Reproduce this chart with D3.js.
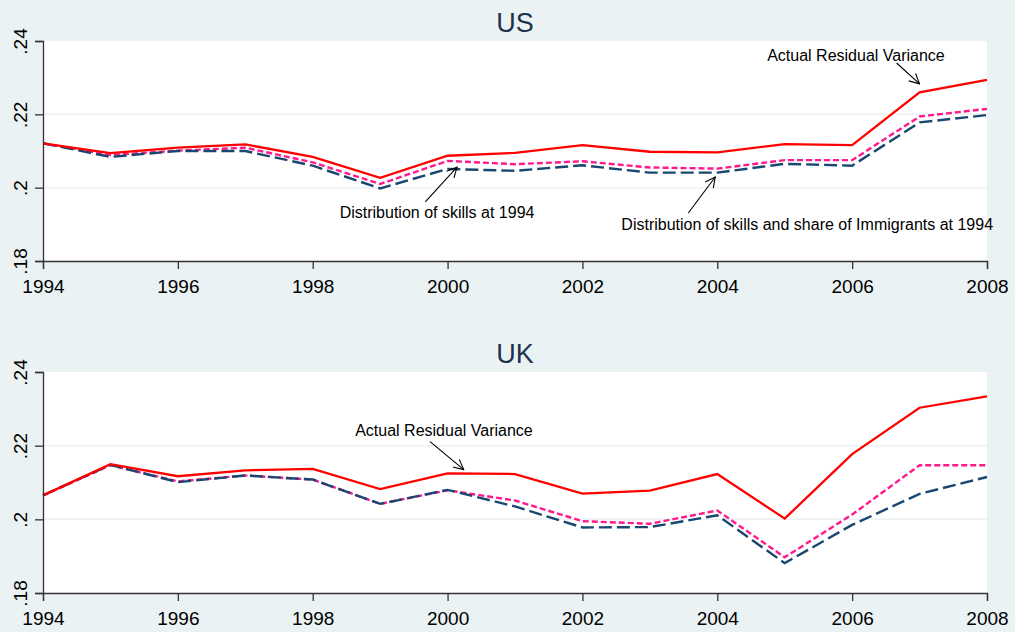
<!DOCTYPE html>
<html>
<head>
<meta charset="utf-8">
<script src="https://cdn.jsdelivr.net/npm/d3@7"></script>
<style>
  body { margin: 0; background: #eaf2f3; }
  svg { display: block; font-family: "Liberation Sans", Arial, sans-serif; }
</style>
</head>
<body>
<svg width="1015" height="632"></svg>
<script>
// residual variance, US and UK, 1994-2008

const BG = "#eaf2f3";
const RED = "#ff0000";
const PINK = "#ff1a8c";
const NAVY = "#1a476f";

var years = [1994, 1995, 1996, 1997, 1998, 1999, 2000, 2001, 2002, 2003, 2004, 2005, 2006, 2007, 2008];
var xTicks = [1994, 1996, 1998, 2000, 2002, 2004, 2006, 2008];
var yTicks = [0.18, 0.2, 0.22, 0.24];
var yTickLabels = [".18", ".2", ".22", ".24"];

// US
var usActual = [0.2121, 0.2094, 0.2109, 0.2118, 0.2084, 0.2027, 0.2087, 0.2095, 0.2116, 0.2098, 0.2096, 0.2119, 0.2116, 0.2260, 0.2294];
var usSkills = [0.2121, 0.2089, 0.2101, 0.2109, 0.2069, 0.2010, 0.2073, 0.2064, 0.2072, 0.2055, 0.2052, 0.2075, 0.2075, 0.2194, 0.2215];
var usSkillsImm = [0.2121, 0.2084, 0.2100, 0.2100, 0.2060, 0.1998, 0.2051, 0.2046, 0.2061, 0.2041, 0.2041, 0.2065, 0.2060, 0.2178, 0.2198];

// UK
var ukActual = [0.2065, 0.2150, 0.2117, 0.2133, 0.2137, 0.2082, 0.2125, 0.2123, 0.2070, 0.2078, 0.2123, 0.2002, 0.2177, 0.2303, 0.2334];
var ukSkills = [0.2065, 0.2147, 0.2103, 0.2119, 0.2108, 0.2042, 0.2079, 0.2051, 0.1995, 0.1988, 0.2024, 0.1897, 0.2013, 0.2147, 0.2147];
var ukSkillsImm = [0.2065, 0.2148, 0.2101, 0.2119, 0.2108, 0.2042, 0.2080, 0.2035, 0.1978, 0.1979, 0.2011, 0.1881, 0.1985, 0.2069, 0.2115];

// annotations, in data units (year, value)
var usLabels = [
  {text: "Actual Residual Variance", x: 2004.74, y: 0.2345, anchor: "start"},
  {text: "Distribution of skills at 1994", x: 1998.40, y: 0.1917, anchor: "start"},
  {text: "Distribution of skills and share of Immigrants at 1994", x: 2008.09, y: 0.1885, anchor: "end"}
];
var usArrows = [
  {x1: 2006.66, y1: 0.2340, x2: 2007.00, y2: 0.2283},
  {x1: 1999.67, y1: 0.1961, x2: 2000.14, y2: 0.2056},
  {x1: 2003.57, y1: 0.1931, x2: 2003.97, y2: 0.2029}
];
var ukLabels = [
  {text: "Actual Residual Variance", x: 1998.63, y: 0.2227, anchor: "start"}
];
var ukArrows = [
  {x1: 1999.74, y1: 0.2211, x2: 2000.24, y2: 0.2135}
];

var svg = d3.select("svg");

svg.append("rect")
  .attr("width", 1015)
  .attr("height", 632)
  .attr("fill", BG);

var defs = svg.append("defs");
defs.append("marker")
  .attr("id", "arrow")
  .attr("viewBox", "0 0 12 12")
  .attr("refX", 11)
  .attr("refY", 6)
  .attr("markerWidth", 12)
  .attr("markerHeight", 12)
  .attr("markerUnits", "userSpaceOnUse")
  .attr("orient", "auto")
  .append("path")
  .attr("d", "M1,1 L11,6 L1,11")
  .attr("fill", "none")
  .attr("stroke", "#000")
  .attr("stroke-width", 1.1);

var x = d3.scaleLinear().domain([1994, 2008]).range([43, 987]);

function drawPanel(title, top, bottom, titleY, series, labels, arrows) {
  var y = d3.scaleLinear().domain([0.18, 0.24]).range([bottom, top]);
  var g = svg.append("g");

  g.append("rect")
    .attr("x", x(1994))
    .attr("y", top)
    .attr("width", x(2008) - x(1994))
    .attr("height", bottom - top)
    .attr("fill", "#fff");

  g.append("text")
    .attr("x", 515)
    .attr("y", titleY)
    .attr("text-anchor", "middle")
    .attr("font-size", 27)
    .attr("fill", "#1e3250")
    .text(title);

  // grid lines
  g.selectAll(".grid")
    .data([0.2, 0.22])
    .enter().append("line")
    .attr("class", "grid")
    .attr("x1", x(1994))
    .attr("x2", x(2008))
    .attr("y1", function (d) { return y(d); })
    .attr("y2", function (d) { return y(d); })
    .attr("stroke", BG)
    .attr("stroke-width", 1.5);

  var line = d3.line()
    .x(function (d, i) { return x(years[i]); })
    .y(function (d) { return y(d); });

  series.forEach(function (s) {
    g.append("path")
      .datum(s.values)
      .attr("d", line)
      .attr("fill", "none")
      .attr("stroke", s.color)
      .attr("stroke-width", s.width)
      .attr("stroke-dasharray", s.dash);
  });

  // axes
  var xAxis = d3.axisBottom(x)
    .tickValues(xTicks)
    .tickFormat(d3.format("d"))
    .tickSize(8);
  var gx = g.append("g")
    .attr("transform", "translate(0," + bottom + ")")
    .call(xAxis);
  gx.select(".domain").attr("stroke", "#333").attr("stroke-width", 1.3);
  gx.selectAll(".tick line").attr("stroke", "#333").attr("stroke-width", 1.3);
  gx.selectAll(".tick text")
    .attr("font-size", 19)
    .attr("font-family", "Liberation Sans, Arial, sans-serif")
    .attr("fill", "#000")
    .attr("dy", "1.1em");

  var yAxis = d3.axisLeft(y)
    .tickValues(yTicks)
    .tickFormat(function (d, i) { return yTickLabels[i]; })
    .tickSize(8);
  var gy = g.append("g")
    .attr("transform", "translate(" + x(1994) + ",0)")
    .call(yAxis);
  gy.select(".domain").attr("stroke", "#333").attr("stroke-width", 1.3);
  gy.selectAll(".tick line").attr("stroke", "#333").attr("stroke-width", 1.3);
  gy.selectAll(".tick text")
    .attr("font-size", 19)
    .attr("font-family", "Liberation Sans, Arial, sans-serif")
    .attr("fill", "#000")
    .attr("x", null)
    .attr("dy", null)
    .attr("text-anchor", "middle")
    .attr("transform", "translate(-16,0) rotate(-90)");

  g.selectAll(".note")
    .data(labels)
    .enter().append("text")
    .attr("class", "note")
    .attr("x", function (d) { return x(d.x); })
    .attr("y", function (d) { return y(d.y); })
    .attr("text-anchor", function (d) { return d.anchor; })
    .attr("font-size", 16)
    .attr("fill", "#000")
    .text(function (d) { return d.text; });

  g.selectAll(".arrow")
    .data(arrows)
    .enter().append("line")
    .attr("class", "arrow")
    .attr("x1", function (d) { return x(d.x1); })
    .attr("y1", function (d) { return y(d.y1); })
    .attr("x2", function (d) { return x(d.x2); })
    .attr("y2", function (d) { return y(d.y2); })
    .attr("stroke", "#000")
    .attr("stroke-width", 1.1)
    .attr("marker-end", "url(#arrow)");
}

drawPanel("US", 41, 261, 32, [
  {values: usSkills, color: PINK, width: 2.4, dash: "6,3"},
  {values: usSkillsImm, color: NAVY, width: 2.4, dash: "13,5"},
  {values: usActual, color: RED, width: 2.3, dash: null}
], usLabels, usArrows);

drawPanel("UK", 372, 593, 363, [
  {values: ukSkills, color: PINK, width: 2.4, dash: "6,3"},
  {values: ukSkillsImm, color: NAVY, width: 2.4, dash: "13,5"},
  {values: ukActual, color: RED, width: 2.3, dash: null}
], ukLabels, ukArrows);
</script>
</body>
</html>
